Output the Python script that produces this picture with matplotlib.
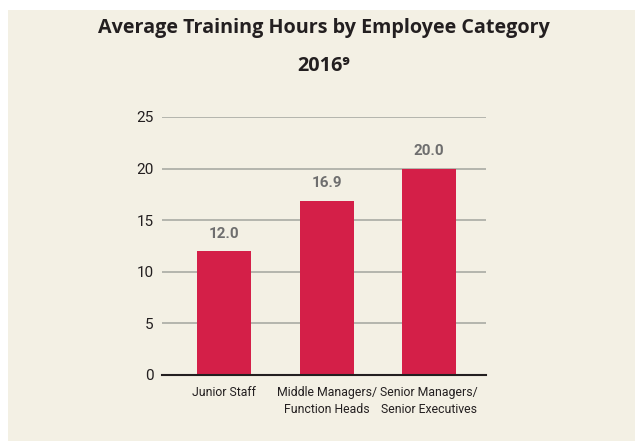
import numpy as np
import matplotlib
matplotlib.use("Agg")
import matplotlib.pyplot as plt
from matplotlib.patches import Rectangle


categories = ["Junior Staff", "Middle Managers/\nFunction Heads", "Senior Managers/\nSenior Executives"]
hours = [12.0, 16.9, 20.0]
y_ticks = [0, 5, 10, 15, 20, 25]

BG = "#F3F0E4"
BAR = "#D41F48"
GRID = "#A9ABA4"
TEXT = "#231F20"
LABEL_GRAY = "#6E6E6E"

W, H = 635, 441
fig = plt.figure(figsize=(W / 100, H / 100), dpi=100, facecolor="white")
fig.patches.append(Rectangle((8 / W, 0), 1 - 8 / W, 1 - 10 / H,
                             transform=fig.transFigure, facecolor=BG,
                             edgecolor="none", zorder=-10))

ax = fig.add_axes([162 / W, 1 - 375 / H, (486 - 162) / W, (375 - 117) / H])
ax.patch.set_alpha(0)

x = np.arange(len(categories))
bars = ax.bar(x, hours, width=0.527, color=BAR, zorder=3)
for xi, v in zip(x, hours):
    ax.text(xi, v + 1.0, f"{v:.1f}", ha="center", va="bottom",
            fontsize=11, fontweight="bold", color=LABEL_GRAY,
            family=["Roboto", "DejaVu Sans"])

ax.set_xlim(-0.605, 2.556)
ax.set_ylim(0, 25)
ax.set_yticks(y_ticks)
ax.set_yticklabels([str(t) for t in y_ticks], fontsize=11, color=TEXT,
                   family=["Roboto", "DejaVu Sans"])
ax.set_xticks(x)
ax.set_xticklabels(categories, fontsize=8.8, color=TEXT,
                   family=["Roboto", "DejaVu Sans"], linespacing=1.35)
ax.tick_params(axis="y", length=0, pad=6)
ax.tick_params(axis="x", length=0, pad=8)
ax.grid(axis="y", color=GRID, linewidth=1.2, zorder=1)
for side in ["top", "right", "left"]:
    ax.spines[side].set_visible(False)
ax.spines["bottom"].set_color(TEXT)
ax.spines["bottom"].set_linewidth(1.5)
ax.spines["bottom"].set_zorder(4)

fig.text(324 / W, 1 - 28 / H, "Average Training Hours by Employee Category",
         ha="center", va="center", fontsize=14.2, fontweight="bold",
         color=TEXT, family=["Open Sans", "DejaVu Sans"])
fig.text(324 / W, 1 - 66 / H, "2016\u2079",
         ha="center", va="center", fontsize=14.2, fontweight="bold",
         color=TEXT, family=["Open Sans", "DejaVu Sans"])

fig.savefig("out.png", dpi=100, facecolor="white")
